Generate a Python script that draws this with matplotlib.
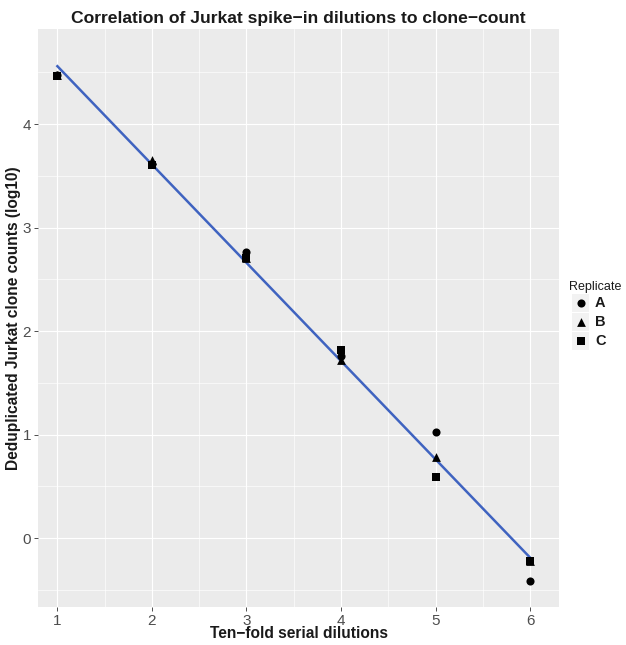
import numpy as np
import matplotlib
matplotlib.use("Agg")
import matplotlib.pyplot as plt
from matplotlib.ticker import MultipleLocator

# Data
dilutions = [1, 2, 3, 4, 5, 6]
rep_A = [4.48, 3.62, 2.77, 1.76, 1.03, -0.41]
rep_B = [4.48, 3.65, 2.71, 1.72, 0.78, -0.22]
rep_C = [4.47, 3.61, 2.71, 1.82, 0.59, -0.22]
replicates = ["A", "B", "C"]
x_ticks = [1, 2, 3, 4, 5, 6]
y_ticks = [0, 1, 2, 3, 4]

plt.rcParams['font.family'] = ['Liberation Sans', 'DejaVu Sans']

fig = plt.figure(figsize=(6.26, 6.45), dpi=100)
ax = fig.add_axes([38/626, 1 - 607/645, (559-38)/626, (607-29)/645])
ax.set_facecolor('#EBEBEB')
for s in ax.spines.values():
    s.set_visible(False)

ax.set_xlim(0.795, 6.305)
ax.set_ylim(-0.665, 4.92)
ax.xaxis.set_minor_locator(MultipleLocator(0.5))
ax.yaxis.set_minor_locator(MultipleLocator(0.5))
ax.set_xticks(x_ticks)
ax.set_yticks(y_ticks)
ax.grid(which='major', color='white', linewidth=0.85)
ax.grid(which='minor', color='white', linewidth=0.45)
ax.set_axisbelow(True)
ax.tick_params(which='minor', length=0)
ax.tick_params(which='major', length=3, width=0.7, color='#4D4D4D',
               labelsize=11, labelcolor='#4D4D4D', pad=2)

# regression line (lm fit on all points)
xs = np.array(dilutions * 3, dtype=float)
ys = np.array(rep_A + rep_B + rep_C)
slope, intercept = np.polyfit(xs, ys, 1)
xl = np.array([min(dilutions), max(dilutions)], dtype=float)
ax.plot(xl, slope * xl + intercept, color='#3F63C0', linewidth=1.8, zorder=2)

markers = {"A": "o", "B": "^", "C": "s"}
for name, vals in zip(replicates, [rep_A, rep_B, rep_C]):
    ax.scatter(dilutions, vals, marker=markers[name], color='black',
               s=34 if name != "B" else 40, zorder=3, linewidths=0, label=name)

fig.text((38 + 559) / 2 / 626, 1 - 18.5/645,
         "Correlation of Jurkat spike\u2212in dilutions to clone\u2212count",
         ha='center', va='center', fontsize=12.6, fontweight='bold', color='#1A1A1A')
fig.text((38 + 559) / 2 / 626, 1 - 634/645, "Ten\u2212fold serial dilutions",
         ha='center', va='center', fontsize=11.2, fontweight='bold', color='#1A1A1A')
fig.text(14/626, 1 - ((29 + 607) / 2) / 645, "Deduplicated Jurkat clone counts (log10)",
         ha='center', va='center', rotation=90, fontsize=11.2, fontweight='bold', color='#1A1A1A')

# legend
fig.text(569/626, 1 - 287/645, "Replicate", ha='left', va='center', fontsize=9, color='#1A1A1A')
leg_y = [303, 322, 341]
for name, yy in zip(replicates, leg_y):
    kax = fig.add_axes([572/626, 1 - (yy + 9)/645, 17/626, 18/645])
    kax.set_facecolor('#F2F2F2')
    for s in kax.spines.values():
        s.set_visible(False)
    kax.set_xticks([]); kax.set_yticks([])
    kax.set_xlim(0, 1); kax.set_ylim(0, 1)
    kax.scatter([0.5], [0.5], marker=markers[name], color='black',
                s=34 if name != "B" else 40, linewidths=0)
    fig.text(595/626, 1 - yy/645, name, ha='left', va='center', fontsize=10.5,
             fontweight='bold', color='#1A1A1A')

fig.savefig("out.png", dpi=100)
